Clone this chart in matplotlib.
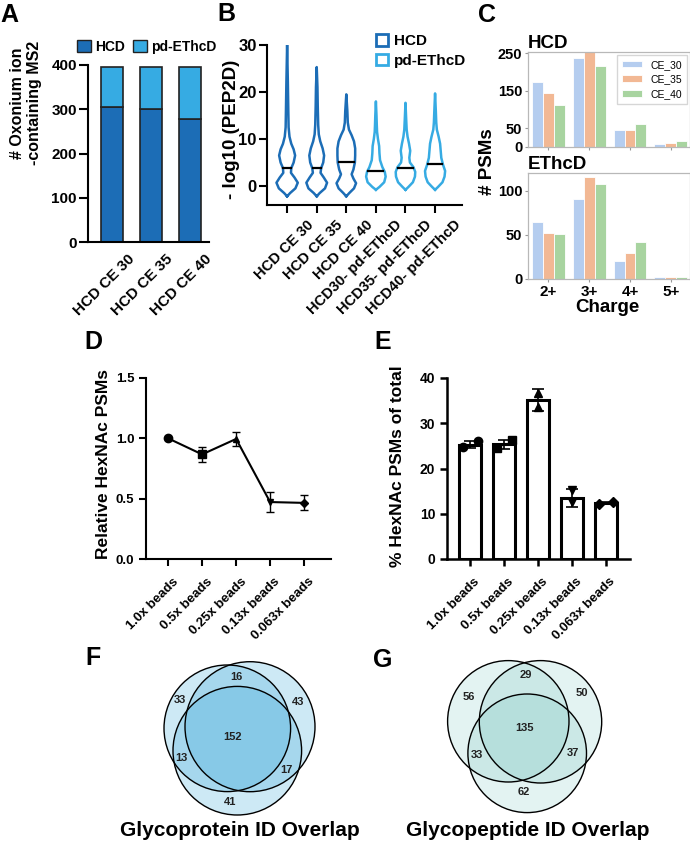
import numpy as np
import matplotlib
matplotlib.use('Agg')
import matplotlib.pyplot as plt
from matplotlib.patches import Patch, Circle
from matplotlib.transforms import ScaledTranslation

plt.rcParams['font.family'] = ['Liberation Sans', 'DejaVu Sans']
plt.rcParams['font.weight'] = 'bold'
plt.rcParams['axes.labelweight'] = 'bold'

W, H = 690, 850

# ---------------- data ----------------
# A
ce_labels = ['HCD CE 30', 'HCD CE 35', 'HCD CE 40']
oxonium_hcd = [305, 300, 278]
oxonium_ethcd = [91, 96, 118]

# B  (violin outlines: level, half width)
violin_labels = ['HCD CE 30', 'HCD CE 35', 'HCD CE 40',
                 'HCD30- pd-EThcD', 'HCD35- pd-EThcD', 'HCD40- pd-EThcD']
violin_group = ['HCD', 'HCD', 'HCD', 'pd-EThcD', 'pd-EThcD', 'pd-EThcD']
violin_medians = [3.8, 3.8, 5.1, 3.2, 3.9, 4.6]
violin_y = [
    [-2.2, -1.5, -0.5, 0.7, 1.8, 2.8, 3.8, 5.0, 6.5, 7.8, 9.0, 10.5, 12.5, 16, 22, 30],
    [-2.2, -1.5, -0.5, 0.7, 1.8, 2.8, 3.8, 5.0, 6.5, 8.0, 9.5, 11, 13, 17, 21, 25.3],
    [-2.2, -1.5, -0.5, 0.6, 1.6, 2.5, 3.5, 5.0, 6.5, 8.0, 9.5, 10.8, 12, 13.5, 16, 19.5],
    [-0.8, -0.2, 0.8, 2.0, 3.0, 4.0, 5.5, 7.0, 8.5, 10, 11.5, 13, 15, 18],
    [-0.8, -0.2, 0.8, 2.0, 3.0, 4.0, 5.0, 6.0, 7.5, 9.0, 10.5, 12, 14, 17.7],
    [-0.8, -0.2, 0.8, 2.0, 3.2, 4.5, 6.0, 7.5, 9.0, 10.5, 12, 13.5, 16, 19.7],
]
violin_w = [
    [0, 0.10, 0.28, 0.36, 0.25, 0.13, 0.14, 0.22, 0.27, 0.22, 0.14, 0.08, 0.05, 0.04, 0.025, 0],
    [0, 0.10, 0.28, 0.35, 0.24, 0.13, 0.15, 0.22, 0.25, 0.20, 0.12, 0.07, 0.05, 0.035, 0.025, 0],
    [0, 0.10, 0.26, 0.33, 0.24, 0.18, 0.24, 0.29, 0.30, 0.30, 0.26, 0.18, 0.09, 0.05, 0.035, 0],
    [0, 0.12, 0.28, 0.33, 0.30, 0.22, 0.14, 0.12, 0.11, 0.07, 0.04, 0.03, 0.02, 0],
    [0, 0.10, 0.25, 0.32, 0.33, 0.27, 0.15, 0.13, 0.16, 0.12, 0.07, 0.04, 0.025, 0],
    [0, 0.10, 0.25, 0.32, 0.34, 0.27, 0.21, 0.19, 0.17, 0.12, 0.06, 0.04, 0.025, 0],
]

# C
charges = ['2+', '3+', '4+', '5+']
ce_names = ['CE_30', 'CE_35', 'CE_40']
hcd_ce30 = [174, 237, 45, 9]
hcd_ce35 = [143, 252, 46, 10]
hcd_ce40 = [112, 217, 61, 17]
ethcd_ce30 = [64, 91, 20, 2]
ethcd_ce35 = [52, 115, 29, 2]
ethcd_ce40 = [51, 107, 42, 2]

# D
beads = ['1.0x beads', '0.5x beads', '0.25x beads', '0.13x beads', '0.063x beads']
rel_mean = [1.0, 0.867, 0.995, 0.472, 0.465]
rel_err = [0.0, 0.065, 0.058, 0.084, 0.063]

# E
pct_mean = [25.3, 25.4, 35.2, 13.55, 12.35]
pct_err = [0.85, 1.0, 2.4, 1.95, 0.3]
pct_rep1 = [24.75, 24.6, 36.7, 15.2, 12.1]
pct_rep2 = [26.0, 26.2, 33.7, 12.6, 12.6]

# F / G  (regions: a only, b only, c only, ab, ac, bc, abc)
protein_overlap = {'a': 33, 'b': 43, 'c': 41, 'ab': 16, 'ac': 13, 'bc': 17, 'abc': 152}
peptide_overlap = {'a': 56, 'b': 50, 'c': 62, 'ab': 29, 'ac': 33, 'bc': 37, 'abc': 135}

# ---------------- styles / layout ----------------
HCD_BLUE = '#1c6db6'
ETHCD_BLUE = '#36abe3'
C_COLORS = ['#b5cdef', '#f2b894', '#a8d4a0']
markers_d = ['o', 's', '^', 'v', 'D']
rep_offsets = [0.22, 0.22, 0.0, 0.0, 0.2]


def box(x0, y0, x1, y1):
    return [x0 / W, 1 - y1 / H, (x1 - x0) / W, (y1 - y0) / H]


fig = plt.figure(figsize=(W / 100, H / 100), dpi=100)


def prism_axes(ax, lw=1.5):
    for s in ['top', 'right']:
        ax.spines[s].set_visible(False)
    for s in ['left', 'bottom']:
        ax.spines[s].set_linewidth(lw)
    ax.tick_params(width=lw)


def rotated_ticks(ax, labels, size, dx, pad):
    ax.set_xticks(range(len(labels)))
    ax.set_xticklabels(labels, rotation=45, ha='right', va='top',
                       rotation_mode='anchor', fontsize=size, fontweight='bold')
    ax.tick_params(axis='x', pad=pad)
    off = ScaledTranslation(dx / 100, 0, fig.dpi_scale_trans)
    for t in ax.get_xticklabels():
        t.set_transform(t.get_transform() + off)


# ---------- A ----------
axA = fig.add_axes(box(88, 65, 209, 242))
xa = np.arange(len(ce_labels))
axA.bar(xa, oxonium_hcd, width=0.57, color=HCD_BLUE, edgecolor='#222222', lw=1.2)
axA.bar(xa, oxonium_ethcd, bottom=oxonium_hcd, width=0.57, color=ETHCD_BLUE,
        edgecolor='#222222', lw=1.2)
axA.set_xlim(-0.62, 2.5)
axA.set_ylim(0, 400)
axA.set_yticks([0, 100, 200, 300, 400])
prism_axes(axA)
axA.tick_params(axis='y', length=6.5, labelsize=11, pad=1.5)
axA.tick_params(axis='x', length=0)
rotated_ticks(axA, ce_labels, 11, 15, 7)
fig.text(26 / W, 1 - 103 / H, '# Oxonium ion\n-containing MS2', rotation=90,
         ha='center', va='center', fontsize=11.5, fontweight='bold', linespacing=1.1)
fig.legend([Patch(facecolor=HCD_BLUE, edgecolor='#222222'),
            Patch(facecolor=ETHCD_BLUE, edgecolor='#222222')],
           ['HCD', 'pd-EThcD'], loc='center', bbox_to_anchor=(147 / W, 1 - 47 / H),
           ncol=2, frameon=False, fontsize=10, handlelength=1.0, handleheight=1.0,
           handletextpad=0.3, columnspacing=0.6, borderaxespad=0)

# ---------- B ----------
axB = fig.add_axes(box(267, 45, 462, 205))
for i, (ys, ws) in enumerate(zip(violin_y, violin_w)):
    ys = np.array(ys)
    ws = np.array(ws)
    col = HCD_BLUE if violin_group[i] == 'HCD' else ETHCD_BLUE
    xs = np.concatenate([i - ws, (i + ws)[::-1]])
    yy = np.concatenate([ys, ys[::-1]])
    axB.plot(xs, yy, color=col, lw=1.8, solid_joinstyle='round')
    m = violin_medians[i]
    hw = np.interp(m, ys, ws) * 0.9
    axB.plot([i - hw, i + hw], [m, m], color='black', lw=1.6)
axB.set_xlim(-0.68, 5.91)
axB.set_ylim(-4.04, 30)
axB.set_yticks([0, 10, 20, 30])
prism_axes(axB)
axB.tick_params(axis='y', length=6, labelsize=12, pad=1.5)
axB.tick_params(axis='x', length=6)
rotated_ticks(axB, violin_labels, 10.5, 19, 3)
fig.text(231 / W, 1 - 129 / H, '- log10 (PEP2D)', rotation=90, ha='center',
         va='center', fontsize=13.5, fontweight='bold')
axB.legend([Patch(facecolor='white', edgecolor=HCD_BLUE, lw=2),
            Patch(facecolor='white', edgecolor=ETHCD_BLUE, lw=2)],
           ['HCD', 'pd-EThcD'], loc='upper left', bbox_to_anchor=(376 / W, 1 - 34 / H),
           bbox_transform=fig.transFigure, frameon=False, fontsize=11,
           handlelength=0.8, handleheight=0.8, handletextpad=0.4, labelspacing=0.35,
           borderaxespad=0, borderpad=0)

# ---------- C ----------
axC1 = fig.add_axes(box(528, 52, 690, 147))
axC2 = fig.add_axes(box(528, 173, 690, 279))
xc = np.arange(len(charges))
bw = 0.267
for ax, series, top, yt, title in [
        (axC1, [hcd_ce30, hcd_ce35, hcd_ce40], 253, [0, 50, 150, 250], 'HCD'),
        (axC2, [ethcd_ce30, ethcd_ce35, ethcd_ce40], 120, [0, 50, 100], 'EThcD')]:
    for k, vals in enumerate(series):
        ax.bar(xc + (k - 1) * bw, vals, width=bw, color=C_COLORS[k],
               edgecolor='white', lw=0.6, label=ce_names[k])
    ax.set_xlim(-0.5, 3.47)
    ax.set_ylim(0, top)
    ax.set_yticks(yt)
    ax.set_xticks(xc)
    for s in ax.spines.values():
        s.set_color('#b8b8b8')
        s.set_linewidth(0.9)
    ax.tick_params(length=2.5, color='#999999', labelsize=10.5, pad=1.5)
    ax.set_title(title, loc='left', fontsize=13.5, fontweight='bold', pad=3)
axC1.set_xticklabels([])
axC2.set_xticklabels(charges, fontsize=11)
axC1.legend(loc='upper right', bbox_to_anchor=(687 / W, 1 - 55 / H),
            bbox_transform=fig.transFigure, prop={'weight': 'normal', 'size': 7.5},
            frameon=True, edgecolor='#cccccc', fancybox=False, handlelength=2.0,
            handleheight=0.6, labelspacing=0.45, borderpad=0.45, handletextpad=0.8,
            borderaxespad=0)
fig.text(487 / W, 1 - 162 / H, '# PSMs', rotation=90, ha='center', va='center',
         fontsize=13.5, fontweight='bold')
fig.text(607 / W, 1 - 308 / H, 'Charge', ha='center', va='center',
         fontsize=13.5, fontweight='bold')

# ---------- D ----------
axD = fig.add_axes(box(146, 378, 331, 559))
xd = np.arange(len(beads))
axD.plot(xd, rel_mean, color='black', lw=1.5, zorder=2)
for i in range(len(beads)):
    if rel_err[i] > 0:
        axD.errorbar(xd[i], rel_mean[i], yerr=rel_err[i], fmt='none', ecolor='black',
                     elinewidth=1, capsize=3, capthick=1, zorder=2)
    ms = 6 if markers_d[i] in ('o', 's') else 4.5
    axD.plot(xd[i], rel_mean[i], marker=markers_d[i], color='black', ms=ms, zorder=3)
axD.set_xlim(-0.65, 4.79)
axD.set_ylim(0, 1.5)
axD.set_yticks([0, 0.5, 1.0, 1.5])
axD.set_yticklabels(['0.0', '0.5', '1.0', '1.5'])
prism_axes(axD)
axD.tick_params(axis='y', length=5, labelsize=9.5)
axD.tick_params(axis='x', length=5)
rotated_ticks(axD, beads, 9.5, 4, 7)
fig.text(103 / W, 1 - 464 / H, 'Relative HexNAc PSMs', rotation=90, ha='center',
         va='center', fontsize=12.5, fontweight='bold')

# ---------- E ----------
axE = fig.add_axes(box(447, 378, 630, 559))
xe = np.arange(len(beads))
axE.bar(xe, pct_mean, width=0.63, facecolor='white', edgecolor='black', lw=2.2, zorder=1)
axE.errorbar(xe, pct_mean, yerr=pct_err, fmt='none', ecolor='black', elinewidth=1.2,
             capsize=4, capthick=1.2, zorder=2)
for i in range(len(beads)):
    ms = 6 if markers_d[i] in ('o', 's') else 5.5
    axE.plot([xe[i] - rep_offsets[i], xe[i] + rep_offsets[i]], [pct_rep1[i], pct_rep2[i]],
             ls='none', marker=markers_d[i], color='black', ms=ms, zorder=3)
axE.set_xlim(-0.68, 4.7)
axE.set_ylim(0, 40)
axE.set_yticks([0, 10, 20, 30, 40])
prism_axes(axE, lw=1.8)
axE.tick_params(axis='y', length=5, labelsize=10)
axE.tick_params(axis='x', length=5)
rotated_ticks(axE, beads, 9.5, 3, 7)
fig.text(398 / W, 1 - 466 / H, '% HexNAc PSMs of total', rotation=90, ha='center',
         va='center', fontsize=12.5, fontweight='bold')

# ---------- F / G venns ----------
axV = fig.add_axes([0, 0, 1, 1], zorder=-1)
axV.set_xlim(0, W)
axV.set_ylim(H, 0)
axV.axis('off')

venn_layouts = [
    (protein_overlap, '#1c9bd2', 0.22,
     [(227.3, 728.3, 63.3), (250.0, 726.7, 65.0), (237.3, 750.7, 64.3)],
     {'a': (180, 700), 'ab': (236, 677), 'b': (297.7, 702), 'ac': (181.7, 758),
      'bc': (286.7, 770), 'c': (230, 802), 'abc': (233, 737)},
     'Glycoprotein ID Overlap', (240, 831)),
    (peptide_overlap, '#44afa8', 0.15,
     [(508.3, 721.3, 60.7), (540.5, 721.8, 61.2), (527.2, 753.3, 59.3)],
     {'a': (468.3, 697.3), 'ab': (526, 675), 'b': (581.7, 693.3), 'ac': (476.7, 755),
      'bc': (572.7, 753.3), 'c': (524.3, 792.3), 'abc': (524.3, 728.3)},
     'Glycopeptide ID Overlap', (528, 830)),
]
for counts, col, alpha, circles, pos, title, tpos in venn_layouts:
    for cx, cy, r in circles:
        axV.add_patch(Circle((cx, cy), r, facecolor=col, alpha=alpha, edgecolor='none'))
    for cx, cy, r in circles:
        axV.add_patch(Circle((cx, cy), r, facecolor='none', edgecolor='black', lw=1.0))
    for key, (x, y) in pos.items():
        axV.text(x, y, str(counts[key]), ha='center', va='center', fontsize=8,
                 fontweight='bold', color='#222222')
    axV.text(tpos[0], tpos[1], title, ha='center', va='center', fontsize=15,
             fontweight='bold')

# ---------- panel letters ----------
for letter, (x, y) in zip('ABCDEFG', [(9, 15), (226, 14), (487, 15), (93, 342),
                                      (383, 342), (93, 658), (383, 660)]):
    fig.text(x / W, 1 - y / H, letter, ha='center', va='center', fontsize=18,
             fontweight='bold')

fig.savefig('out.png', dpi=100)
